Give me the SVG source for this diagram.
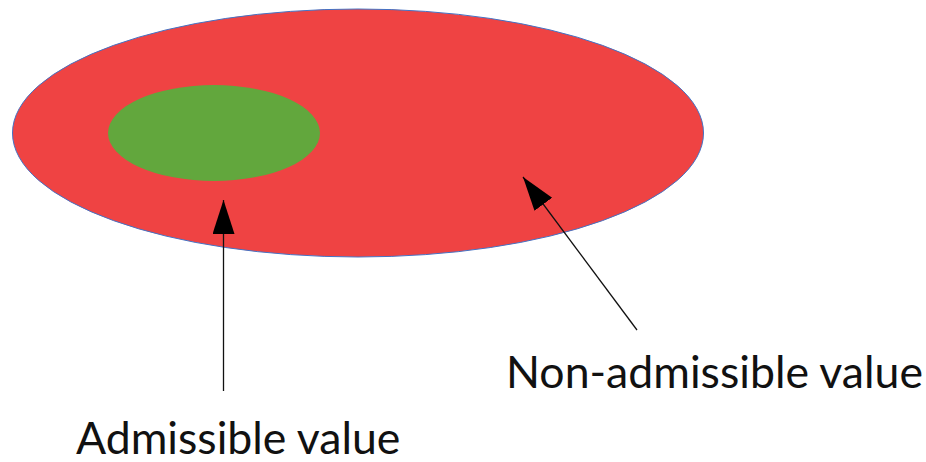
<svg xmlns="http://www.w3.org/2000/svg" width="926" height="462" viewBox="0 0 926 462">
<style>
.lbl{font-family:Lato,"Open Sans","Liberation Sans",sans-serif;font-size:44.6px;fill:#111}
.conn{stroke:#111;stroke-width:1.3;fill:none}
</style>
<defs>
<marker id="ah" markerUnits="userSpaceOnUse" markerWidth="40" markerHeight="30" refX="34" refY="11" orient="auto">
<path d="M0,0 L34,11 L0,22 Z" fill="#000"/>
</marker>
</defs>
<rect width="926" height="462" fill="#fff"/>
<g id="non-admissible">
<ellipse cx="358" cy="133" rx="345.5" ry="124" fill="#EF4343" stroke="#4472C4" stroke-width="1"/>
</g>
<g id="admissible">
<ellipse cx="214" cy="133" rx="106" ry="48" fill="#62A73D"/>
</g>
<g id="connectors">
<path class="conn" d="M223.5,391 L223.5,200" marker-end="url(#ah)"/>
<path class="conn" d="M637,330 L523,177" marker-end="url(#ah)"/>
</g>
<g id="label-admissible"><text class="lbl" x="76" y="454">Admissible value</text></g>
<g id="label-non-admissible"><text class="lbl" x="506" y="388">Non-admissible value</text></g>
</svg>
